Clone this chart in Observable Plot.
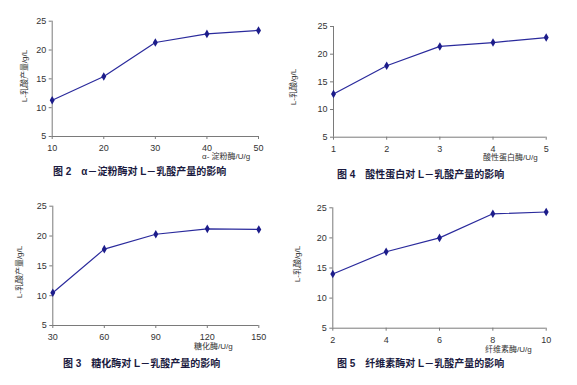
<!DOCTYPE html>
<html><head><meta charset="utf-8">
<script src="https://cdn.jsdelivr.net/npm/d3@7"></script>
<script src="https://cdn.jsdelivr.net/npm/@observablehq/plot@0.6"></script>
<style>
body{margin:0;background:#fff;}
#wrap{position:relative;width:577px;height:385px;overflow:hidden;background:#fff;}
#wrap svg{position:absolute;left:0;top:0;}
.t{position:absolute;white-space:nowrap;font-family:"Liberation Sans","Noto Sans CJK SC",sans-serif;line-height:1;}
.cap{font-weight:bold;font-size:10px;color:#1a1a40;}
.ax{font-size:8px;color:#333;}
</style></head><body><div id="wrap"></div>
<script>
// Data
const amylaseX = [10, 20, 30, 40, 50];
const amylaseY = [11.3, 15.4, 21.3, 22.8, 23.4];
const proteaseX = [1, 2, 3, 4, 5];
const proteaseY = [12.8, 17.9, 21.4, 22.1, 23.0];
const glucoX = [30, 60, 90, 120, 150];
const glucoY = [10.5, 17.8, 20.3, 21.2, 21.1];
const celluX = [2, 4, 6, 8, 10];
const celluY = [14.0, 17.7, 20.0, 24.0, 24.3];
const yTicks = [5, 10, 15, 20, 25];

const captions = ["图 2　α－淀粉酶对 L－乳酸产量的影响", "图 4　酸性蛋白对 L－乳酸产量的影响",
                  "图 3　糖化酶对 L－乳酸产量的影响", "图 5　纤维素酶对 L－乳酸产量的影响"];
const xTitles = ["α- 淀粉酶/U/g", "酸性蛋白酶/U/g", "糖化酶/U/g", "纤维素酶/U/g"];
const yTitles = ["L-乳酸产量/g/L", "L-乳酸/g/L", "L-乳酸产量/g/L", "L-乳酸/g/L"];

const W = 577, H = 385;
const panels = [
  {xs: amylaseX, ys: amylaseY, L: 51.7, R: 258, T: 20.7, B: 136, cap: [53, 167], xt: [202, 153], yt: [25, 76]},
  {xs: proteaseX, ys: proteaseY, L: 333, R: 545.7, T: 26, B: 136.7, cap: [337, 170], xt: [483, 154], yt: [294, 87]},
  {xs: glucoX, ys: glucoY, L: 52.3, R: 258.3, T: 205.7, B: 325, cap: [63, 359], xt: [194, 343], yt: [20, 272]},
  {xs: celluX, ys: celluY, L: 332.3, R: 545.7, T: 207.3, B: 327.7, cap: [337, 359], xt: [485, 346], yt: [298, 264]}
];

const wrap = document.getElementById("wrap");
const axisColor = "#7a7a7a";
const lineColor = "#2a2a9c";

panels.forEach((p, i) => {
  const data = p.xs.map((x, j) => ({x, y: p.ys[j]}));
  const chart = Plot.plot({
    width: W, height: H,
    marginLeft: p.L, marginRight: W - p.R, marginTop: p.T, marginBottom: H - p.B,
    style: {fontFamily: "Liberation Sans, Arial, sans-serif", fontSize: "9px", color: "#333", background: "transparent", overflow: "visible"},
    x: {domain: [p.xs[0], p.xs[p.xs.length - 1]], label: null},
    y: {domain: [5, 25], label: null},
    marks: [
      Plot.axisX({ticks: p.xs, tickFormat: d3.format("d"), tickSize: 3, tickPadding: 5, stroke: axisColor, fill: "#333"}),
      Plot.axisY({ticks: yTicks, tickFormat: d3.format("d"), tickSize: 3, tickPadding: 3, stroke: axisColor, fill: "#333"}),
      Plot.ruleX([p.xs[0]], {stroke: axisColor}),
      Plot.ruleY([5], {stroke: axisColor}),
      Plot.line(data, {x: "x", y: "y", stroke: lineColor, strokeWidth: 1.2}),
      Plot.dot(data, {x: "x", y: "y", symbol: "diamond", r: 2.6, fill: "#1c1c8a", stroke: "none"})
    ]
  });
  wrap.appendChild(chart);

  const c = document.createElement("div");
  c.className = "t cap"; c.textContent = captions[i];
  c.style.left = p.cap[0] + "px"; c.style.top = p.cap[1] + "px";
  wrap.appendChild(c);

  const xt = document.createElement("div");
  xt.className = "t ax"; xt.textContent = xTitles[i];
  xt.style.left = p.xt[0] + "px"; xt.style.top = p.xt[1] + "px";
  wrap.appendChild(xt);

  const yt = document.createElement("div");
  yt.className = "t ax"; yt.textContent = yTitles[i];
  yt.style.left = p.yt[0] + "px"; yt.style.top = p.yt[1] + "px";
  yt.style.transform = "translate(-50%,-50%) rotate(-90deg)";
  wrap.appendChild(yt);
});
</script></body></html>
